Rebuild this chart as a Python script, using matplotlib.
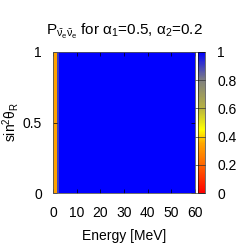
import matplotlib.pyplot as plt
from matplotlib.colors import LinearSegmentedColormap
import numpy as np

plt.rcParams["font.family"] = ["Liberation Sans", "DejaVu Sans"]
plt.rcParams["mathtext.fontset"] = "custom"
plt.rcParams["mathtext.rm"] = "Liberation Sans"
plt.rcParams["mathtext.it"] = "Liberation Sans"

# energy bin edges (MeV) and sin^2(theta_R) edges
energie_bords = [0, 1.7, 2.5, 60]
sin2_bords = [0, 1]
# survival probability per energy bin (flat in sin^2 theta_R)
proba = [0.34, 0.9, 1.0]

palette = LinearSegmentedColormap.from_list("pm3d", [
	(0.0, (1.0, 0.0, 0.0)),
	(0.2, (1.0, 0.4, 0.0)),
	(0.35, (1.0, 0.65, 0.0)),
	(0.45, (1.0, 1.0, 0.0)),
	(0.6, (0.72, 0.7, 0.25)),
	(0.8, (0.5, 0.5, 0.5)),
	(1.0, (0.0, 0.0, 1.0)),
])

fig = plt.figure(figsize=(2.49, 2.45), dpi=100)
ax = fig.add_axes([0.213, 0.212, 0.57, 0.576])
cax = fig.add_axes([0.795, 0.212, 0.028, 0.576])

Z = np.array([proba])
m = ax.pcolormesh(energie_bords, sin2_bords, Z, cmap=palette, vmin=0, vmax=1)
ax.set_xlim(0, 60)
ax.set_ylim(0, 1)
ax.set_xticks([0, 10, 20, 30, 40, 50, 60])
ax.set_yticks([0, 0.5, 1])
ax.set_yticklabels(["0", "0.5", "1"])
ax.tick_params(direction="in", length=3, width=0.5, top=True, right=True, labelsize=10)
ax.tick_params(axis="x", pad=9)
ax.tick_params(axis="y", pad=8)
for s in ax.spines.values():
	s.set_linewidth(0.6)
	s.set_color("#555555")
ax.set_xlabel("Energy [MeV]", fontsize=10, labelpad=7)
ax.set_ylabel(r"sin$^2\theta_R$", fontsize=10, labelpad=1)
ax.set_title(r"P$_{\bar{\nu}_e\bar{\nu}_e}$ for $\alpha_1$=0.5, $\alpha_2$=0.2", fontsize=11, pad=12)

cb = fig.colorbar(m, cax=cax, ticks=[0, 0.2, 0.4, 0.6, 0.8, 1])
cb.ax.set_yticklabels(["0", "0.2", "0.4", "0.6", "0.8", "1"])
cb.ax.tick_params(direction="in", length=7, width=0.5, labelsize=10, pad=9, color="#333333")
cb.outline.set_linewidth(0.4)

plt.savefig("out.png", dpi=100)
